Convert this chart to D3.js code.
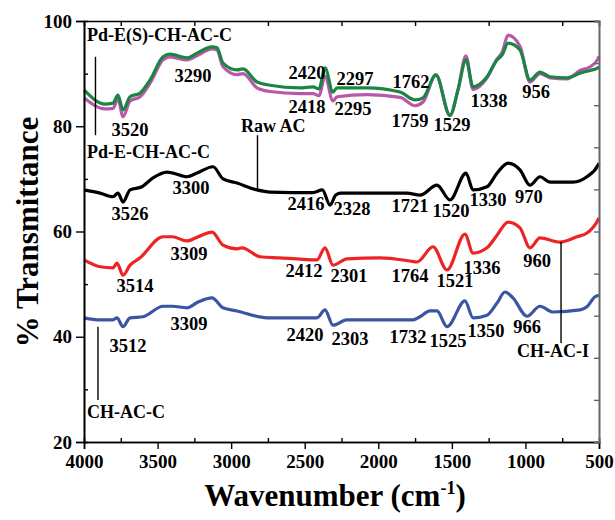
<!DOCTYPE html>
<html>
<head>
<meta charset="utf-8">
<script src="https://cdn.jsdelivr.net/npm/d3@7"></script>
<style>
  body { margin: 0; background: #fff; }
  text { font-family: "Liberation Serif", "Times New Roman", serif; font-weight: bold; }
</style>
</head>
<body>
<svg id="drawing_region"></svg>
<script>
// wavenumber grid shared by the two Pd samples
const pdWn = [4000, 3857, 3803, 3769, 3735, 3687, 3619, 3551, 3463, 3416, 3300, 3232, 3130, 3096, 3055, 2960, 2919, 2824, 2736, 2532, 2444, 2403, 2362, 2308, 2280, 2077, 1852, 1750, 1696, 1608, 1513, 1458, 1404, 1356, 1261, 1193, 1159, 1118, 1037, 969, 901, 833, 718, 629, 560, 507, 500];
const pdESValues = [86.9, 84.2, 84.4, 85.9, 83.1, 85.6, 86.3, 88.8, 93.2, 93.7, 93.0, 93.9, 95.1, 94.9, 92.0, 90.7, 90.9, 88.4, 87.8, 87.3, 87.5, 87.1, 91.1, 86.5, 87.3, 87.3, 86.5, 85.0, 85.4, 89.7, 82.1, 86.9, 92.6, 87.5, 89.4, 92.6, 93.5, 95.8, 94.5, 88.8, 90.3, 89.4, 89.2, 90.1, 90.6, 91.1, 91.3];
const pdEValues = [85.4, 83.3, 83.4, 85.2, 81.8, 84.8, 85.6, 88.2, 92.6, 93.2, 92.6, 93.4, 94.7, 94.5, 91.3, 89.8, 90.0, 87.3, 86.6, 86.2, 86.2, 85.8, 89.5, 84.8, 85.6, 86.0, 85.5, 83.9, 84.6, 89.8, 82.0, 87.0, 93.4, 87.0, 89.2, 92.8, 94.0, 97.3, 95.2, 88.4, 90.0, 89.2, 89.0, 90.6, 91.3, 92.8, 93.3];

const rawWn = [4000, 3891, 3803, 3769, 3735, 3687, 3606, 3531, 3436, 3395, 3300, 3232, 3123, 3055, 2960, 2824, 2736, 2444, 2380, 2328, 2290, 2260, 1805, 1717, 1601, 1513, 1404, 1356, 1261, 1193, 1118, 1037, 969, 901, 833, 677, 582, 507, 500];
const rawValues = [67.9, 67.3, 66.6, 67.3, 65.6, 67.9, 68.5, 70.2, 71.3, 71.1, 70.4, 71.1, 72.3, 70.0, 69.2, 67.9, 67.5, 67.4, 67.9, 65.0, 66.9, 67.3, 67.3, 66.9, 68.8, 66.0, 71.1, 67.9, 68.5, 71.1, 73.0, 71.7, 68.8, 70.4, 69.4, 69.4, 70.4, 72.6, 73.0];

const chiWn = [4000, 3891, 3803, 3776, 3735, 3687, 3619, 3463, 3400, 3300, 3225, 3130, 3055, 2960, 2926, 2804, 2668, 2417, 2362, 2308, 2213, 1988, 1785, 1737, 1628, 1533, 1411, 1356, 1261, 1193, 1118, 1037, 969, 901, 765, 650, 582, 507, 500];
const chiValues = [54.6, 53.3, 53.1, 54.0, 51.7, 53.6, 55.0, 59.0, 59.0, 58.2, 59.0, 59.9, 57.4, 56.7, 56.9, 55.2, 55.0, 54.6, 56.9, 53.6, 54.8, 55.0, 54.4, 54.2, 57.1, 52.7, 59.5, 55.9, 56.9, 59.3, 61.8, 60.7, 56.9, 58.8, 58.0, 59.0, 59.7, 62.2, 62.6];

const chcWn = [4000, 3891, 3803, 3776, 3735, 3687, 3599, 3463, 3400, 3300, 3225, 3130, 3055, 2960, 2756, 2417, 2362, 2308, 2213, 1764, 1717, 1649, 1601, 1533, 1411, 1356, 1261, 1193, 1139, 1085, 989, 901, 813, 629, 582, 527, 500];
const chcValues = [43.6, 43.2, 43.2, 43.6, 41.9, 43.6, 43.8, 45.8, 45.8, 45.5, 46.6, 47.4, 45.5, 44.9, 43.6, 43.6, 45.1, 42.2, 43.2, 43.2, 43.8, 44.9, 44.9, 41.9, 46.8, 43.6, 44.1, 46.4, 48.5, 47.4, 43.9, 45.8, 44.7, 45.1, 45.7, 47.6, 47.9];

const xTicks = [4000, 3500, 3000, 2500, 2000, 1500, 1000, 500];
const yTicks = [20, 40, 60, 80, 100];

// peak labels: [wavenumber, transmittance, text]
const peakLabels = [
    [3687, 78.1, "3520"], [3259, 88.4, "3290"], [2484, 89.0, "2420"], [2484, 82.5, "2418"],
    [2158, 87.8, "2297"], [2172, 82.1, "2295"], [1778, 87.3, "1762"], [1785, 79.9, "1759"],
    [1499, 79.1, "1529"], [1248, 83.7, "1338"], [928, 85.4, "956"],
    [3273, 67.1, "3300"], [3687, 62.2, "3526"], [2491, 64.1, "2416"], [2179, 63.1, "2328"],
    [1785, 63.7, "1721"], [1506, 62.8, "1520"], [1254, 64.8, "1330"], [976, 65.4, "970"],
    [3286, 54.6, "3309"], [3653, 48.5, "3514"], [2505, 51.4, "2412"], [2199, 50.4, "2301"],
    [1785, 50.4, "1764"], [1479, 49.5, "1521"], [1295, 51.9, "1336"], [921, 53.3, "960"],
    [3286, 41.3, "3309"], [3701, 37.1, "3512"], [2498, 39.2, "2420"], [2192, 38.4, "2303"],
    [1798, 38.8, "1732"], [1526, 38.1, "1525"], [1268, 39.95, "1350"], [989, 40.7, "966"]
];

// sample names: [wavenumber, transmittance, text]
const sampleLabels = [
    [3980, 96.2, "Pd-E(S)-CH-AC-C"], [3980, 74.0, "Pd-E-CH-AC-C"], [2933, 78.9, "Raw AC"],
    [3980, 24.6, "CH-AC-C"], [1057, 36.2, "CH-AC-I"]
];

// pointer lines: [wavenumber, from, to]
const pointers = [[3922, 93.2, 78.3], [2821, 78.3, 68.1], [3905, 41.9, 28.0], [758, 58.0, 38.8]];

class SpectraPlot {

    constructor( config ) {
        this.config = config;
        this.init();
    }

    init() {
        let self = this;

        self.svg = d3.select( self.config.parent )
            .attr('width', self.config.width)
            .attr('height', self.config.height);

        self.xscale = d3.scaleLinear()
            .domain([4000, 500])
            .range([84, 599]);

        self.yscale = d3.scaleLinear()
            .domain([20, 100])
            .range([442, 21]);

        self.line = d3.line()
            .x( d => self.xscale(d[0]) )
            .y( d => self.yscale(d[1]) )
            .curve( d3.curveMonotoneX );
    }

    render() {
        let self = this;
        const series = [
            { wn: pdWn, v: pdEValues, color: "#b957a8" },
            { wn: pdWn, v: pdESValues, color: "#1b8544" },
            { wn: rawWn, v: rawValues, color: "#000000" },
            { wn: chiWn, v: chiValues, color: "#ee2424" },
            { wn: chcWn, v: chcValues, color: "#3a55a4" }
        ];

        self.svg.selectAll("path.curve")
            .data(series)
            .join("path")
            .attr("class", "curve")
            .attr("fill", "none")
            .attr("stroke", d => d.color)
            .attr("stroke-width", 3.2)
            .attr("stroke-linejoin", "round")
            .attr("d", d => self.line( d.wn.map( (w, i) => [w, d.v[i]] ) ));

        // axes
        const bottom = self.svg.append('g')
            .attr('transform', `translate(0, ${self.yscale(20)})`)
            .call( d3.axisBottom(self.xscale).tickValues(xTicks).tickSize(7).tickPadding(6).tickFormat(d3.format("d")) );
        const bottomMinor = self.svg.append('g')
            .attr('transform', `translate(0, ${self.yscale(20)})`)
            .call( d3.axisBottom(self.xscale).tickValues(d3.range(3750, 500, -500)).tickSize(-4).tickFormat("") );
        const left = self.svg.append('g')
            .attr('transform', `translate(${self.xscale(4000)}, 0)`)
            .call( d3.axisLeft(self.yscale).tickValues(yTicks).tickSize(8).tickPadding(4) );
        const leftMinor = self.svg.append('g')
            .attr('transform', `translate(${self.xscale(4000)}, 0)`)
            .call( d3.axisLeft(self.yscale).tickValues([30, 50, 70, 90]).tickSize(-4).tickFormat("") );
        const top = self.svg.append('g')
            .attr('transform', `translate(0, ${self.yscale(100)})`)
            .call( d3.axisTop(self.xscale).tickValues(d3.range(3750, 500, -500)).tickSize(-5).tickFormat("") );
        const right = self.svg.append('g')
            .attr('transform', `translate(${self.xscale(500)}, 0)`)
            .call( d3.axisRight(self.yscale).tickValues(d3.range(20, 101, 8)).tickSize(-5).tickFormat("") );

        [bottom, bottomMinor, left, leftMinor, top].forEach( g => {
            g.select(".domain").attr("stroke", "#000").attr("stroke-width", 1.6);
            g.selectAll(".tick line").attr("stroke", "#000").attr("stroke-width", 1.4);
        });
        right.select(".domain").attr("stroke", "#666").attr("stroke-width", 2);
        right.selectAll(".tick line").attr("stroke", "#666").attr("stroke-width", 1.4);

        bottom.selectAll(".tick text")
            .attr("font-family", "Liberation Serif").attr("font-weight", "bold")
            .attr("font-size", "19px").attr("fill", "#000");
        left.selectAll(".tick text")
            .attr("font-family", "Liberation Serif").attr("font-weight", "bold")
            .attr("font-size", "19px").attr("fill", "#000");

        // pointer lines
        self.svg.selectAll("line.pointer")
            .data(pointers)
            .join("line")
            .attr("class", "pointer")
            .attr("x1", d => self.xscale(d[0]))
            .attr("x2", d => self.xscale(d[0]))
            .attr("y1", d => self.yscale(d[1]))
            .attr("y2", d => self.yscale(d[2]))
            .attr("stroke", "#000")
            .attr("stroke-width", 1.4);

        self.svg.selectAll("text.peak")
            .data(peakLabels)
            .join("text")
            .attr("class", "peak")
            .attr("x", d => self.xscale(d[0]))
            .attr("y", d => self.yscale(d[1]))
            .attr("text-anchor", "middle")
            .attr("font-size", "18.5px")
            .text(d => d[2]);

        self.svg.selectAll("text.sample")
            .data(sampleLabels)
            .join("text")
            .attr("class", "sample")
            .attr("x", d => self.xscale(d[0]))
            .attr("y", d => self.yscale(d[1]))
            .attr("font-size", "18px")
            .text(d => d[2]);

        // axis titles
        self.svg.append("text")
            .attr("transform", "translate(38, 232) rotate(-90)")
            .attr("text-anchor", "middle")
            .attr("font-size", "31px")
            .text("% Transmittance");

        const xlabel = self.svg.append("text")
            .attr("x", 335)
            .attr("y", 506)
            .attr("text-anchor", "middle")
            .attr("font-size", "31px")
            .text("Wavenumber (cm");
        xlabel.append("tspan")
            .attr("font-size", "18px")
            .attr("dy", "-12")
            .text("-1");
        xlabel.append("tspan")
            .attr("dy", "12")
            .text(")");
    }
}

const plot = new SpectraPlot({ parent: '#drawing_region', width: 615, height: 520 });
plot.render();
</script>
</body>
</html>
